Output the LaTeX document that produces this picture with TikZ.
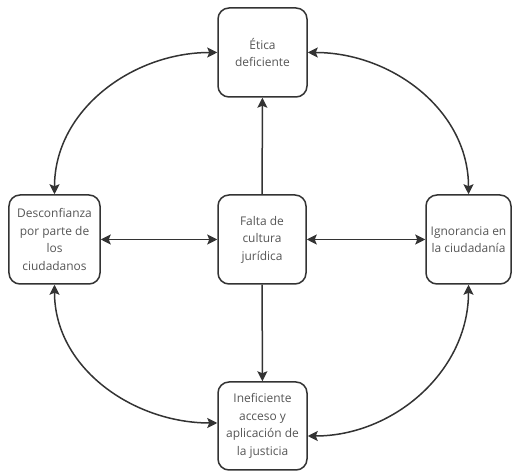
\documentclass[tikz,border=0pt]{standalone}
\usepackage{fontspec}
\setmainfont{Open Sans}
\usetikzlibrary{arrows.meta}
\definecolor{linea}{HTML}{333333}
\definecolor{texto}{HTML}{555555}
\tikzset{
    caja/.style={draw=linea, line width=1.5bp, rounded corners=11bp, align=center,
        inner sep=1bp, text=texto, font=\fontsize{12}{17.5}\selectfont},
    flecha/.style={draw=linea, line width=1.5bp, -{Stealth[length=10bp,width=10bp,inset=2bp]}},
    dobleflecha/.style={draw=linea, line width=1.5bp,
        {Stealth[length=10bp,width=10bp,inset=2bp]}-{Stealth[length=10bp,width=10bp,inset=2bp]}}
}
\begin{document}
\begin{tikzpicture}[x=1bp,y=1bp]
            \useasboundingbox (0,0) rectangle (512,472);

            % Cajas
            \node[caja, minimum width=89bp, minimum height=89bp] (etica) at (262.5, 419.5) {Ética\\deficiente};
            \node[caja, minimum width=88bp, minimum height=89bp] (falta) at (262, 232.5) {Falta de\\cultura\\jurídica};
            \node[caja, minimum width=91bp, minimum height=89bp] (desconfianza) at (54.5, 232.5) {Desconfianza\\por parte de\\los\\ciudadanos};
            \node[caja, minimum width=85bp, minimum height=89bp] (ignorancia) at (468.5, 232.5) {Ignorancia en\\la ciudadanía};
            \node[caja, minimum width=89bp, minimum height=88bp] (ineficiente) at (262.5, 46) {Ineficiente\\acceso y\\aplicación de\\la justicia};

            % Flechas rectas
            \draw[flecha] (falta) -- (etica);
            \draw[flecha] (falta) -- (ineficiente);
            \draw[dobleflecha] (falta) -- (desconfianza);
            \draw[dobleflecha] (falta) -- (ignorancia);

            % Flechas curvas
            \draw[dobleflecha] (etica.west) to[out=180, in=90] (desconfianza.north);
            \draw[dobleflecha] (etica.east) to[out=0, in=90] (ignorancia.north);
            \draw[dobleflecha] (desconfianza.south) to[out=-90, in=180] ([yshift=3bp]ineficiente.west);
            \draw[dobleflecha] (ignorancia.south) to[out=-90, in=0] ([yshift=-10bp]ineficiente.east);
        \end{tikzpicture}
\end{document}
